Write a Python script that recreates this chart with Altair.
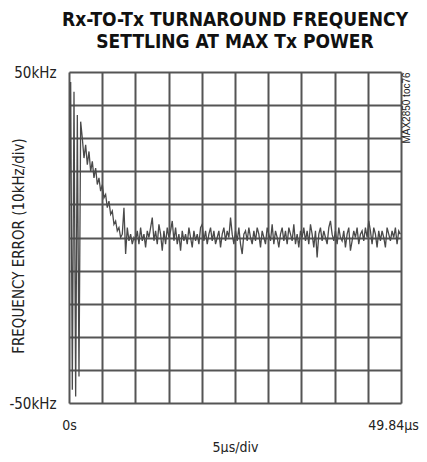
import altair as alt
import pandas as pd
import numpy as np

title_lines = ["Rx-TO-Tx TURNAROUND FREQUENCY", "SETTLING AT MAX Tx POWER"]
y_title = "FREQUENCY ERROR (10kHz/div)"
x_title = "5µs/div"
note_text = "MAX2850 toc76"
x_end_us = 49.84
sample_step_us = 0.25
y_tick_values = [-50, -40, -30, -20, -10, 0, 10, 20, 30, 40, 50]
x_tick_values = [0, 4.984, 9.968, 14.952, 19.936, 24.92, 29.904, 34.888, 39.872, 44.856, 49.84]

# frequency error (kHz), one value per sample
freq_khz = [
    0, 47, -46, 44, -48, 37, -42, 35, 30, 24,
    28, 22, 26, 20, 23, 18, 21, 16, 18, 14,
    16, 12, 13, 9, 11, 7, 8, 4, 5, 2,
    3, 0, 1, 9, -5, 3, -1, 1, -2, 0,
    -1, 2, -2, 3, -1, 1, -3, 2, 0, 3,
    6, -1, 2, -2, 4, 1, -4, 2, -2, 3,
    0, 2, 5, -1, 3, -2, 1, -4, 2, -1,
    1, -2, 3, 0, -3, 2, -1, 1, -2, 3,
    4, -1, 2, -2, 1, 3, -1, 2, -2, 0,
    2, -3, 1, 3, -1, 2, 0, 6, 1, -2,
    2, -1, 3, -2, -5, 1, 2, -1, 3, 0,
    -2, 2, -1, 3, 1, -3, 2, 0, -2, 3,
    1, -1, 4, -2, 2, 0, -3, 1, 3, -1,
    2, -2, 3, 1, -1, 4, -2, 1, -3, 2,
    0, 3, -1, 2, -2, 4, 1, -3, 2, -6,
    1, 3, -1, 2, 0, -2, 3, 5, 1, -1,
    2, -2, 3, 0, -1, 2, -3, 1, 3, -4,
    -1, 2, 0, 3, -2, 1, 2, -1, 3, 0,
    5, 2, -2, 3, 1, -3, 2, -1, 2, 0,
    -3, 3, 1, -1, 2, 0, 3, -2, 2, 1,
]

time_us = np.arange(len(freq_khz)) * sample_step_us
df = pd.DataFrame({"t": time_us, "f": freq_khz})

FONT = "'Liberation Sans Narrow', 'DejaVu Sans Condensed', 'Roboto Condensed', Roboto, sans-serif"
W, H = 332, 331

x_enc = alt.X(
    "t:Q",
    scale=alt.Scale(domain=[0, x_end_us], nice=False, zero=False),
    axis=alt.Axis(
        values=x_tick_values,
        title=x_title,
        labelExpr="datum.value < 0.1 ? '0s' : (datum.value > 49 ? '49.84µs' : '')",
        grid=True, gridColor="#555555", gridWidth=2,
        domain=False, ticks=False,
        labelFont=FONT, labelFontSize=14, labelColor="#222222",
        labelPadding=15, labelFlush=False, labelOverlap=False,
        labelOffset={"condition": {"test": "datum.value > 49", "value": -8}, "value": 0},
        titleFont=FONT, titleFontSize=14, titleFontWeight="normal", titleColor="#222222",
        titleX=W / 2, titleY=44, titleBaseline="middle", titleAlign="center",
    ),
)
y_enc = alt.Y(
    "f:Q",
    scale=alt.Scale(domain=[-50, 50], nice=False),
    axis=alt.Axis(
        values=y_tick_values,
        title=y_title,
        labelExpr="datum.value == 50 ? '50kHz' : (datum.value == -50 ? '-50kHz' : '')",
        grid=True, gridColor="#555555", gridWidth=2,
        domain=False, ticks=False,
        labelFont=FONT, labelFontSize=15, labelColor="#222222",
        labelPadding=13, labelFlush=False, labelOverlap=False,
        titleFont=FONT, titleFontSize=15, titleFontWeight="normal", titleColor="#222222",
        titleX=-51, titleY=H / 2 + 8, titleAngle=270, titleBaseline="middle", titleAlign="center",
    ),
)

trace = alt.Chart(df).mark_line(color="#4a4a4a", strokeWidth=1.3, clip=True).encode(x=x_enc, y=y_enc)

note = alt.Chart(pd.DataFrame({"label": [note_text]})).mark_text(
    font="Liberation Sans", fontSize=10, angle=270, align="center", baseline="middle", color="#222222"
).encode(text="label:N", x=alt.value(W + 6), y=alt.value(36))

chart = (
    alt.layer(trace, note)
    .properties(
        width=W, height=H,
        title=alt.TitleParams(
            text=title_lines, font=FONT, fontSize=19, fontWeight="bold",
            anchor="middle", offset=13, lineHeight=22, color="#111111",
        ),
        autosize=alt.AutoSizeParams(type="none"),
        padding={"left": 61, "top": 64, "right": 18, "bottom": 51},
    )
    .configure_view(stroke="#111111", strokeWidth=3)
    .configure(background="white")
)

chart.save("out.html", embed_options={"renderer": "svg", "actions": False})
